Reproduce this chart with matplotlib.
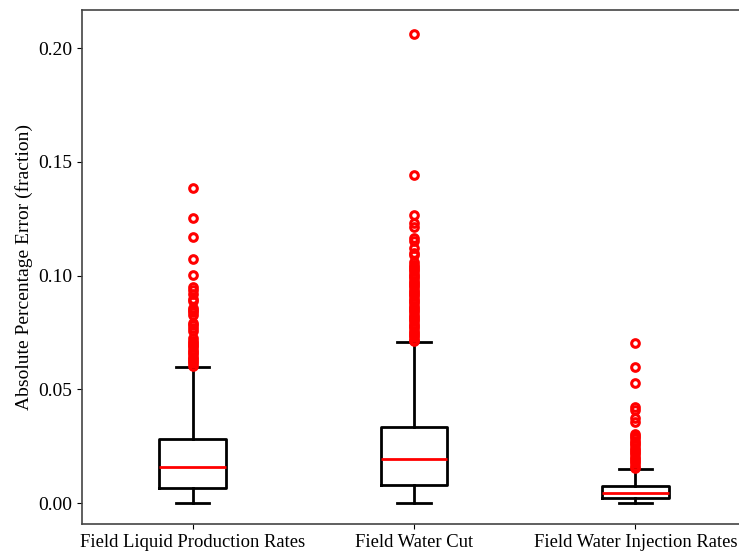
import matplotlib
matplotlib.use("Agg")
import matplotlib.pyplot as plt

plt.rcParams['font.family'] = ['Liberation Serif', 'DejaVu Serif']

labels = ['Field Liquid Production Rates', 'Field Water Cut', 'Field Water Injection Rates']

# box summary per series: lower whisker, q1, median, q3, upper whisker
whislo = [0.0, 0.0, 0.0002]
q1 = [0.0068, 0.0079, 0.0021]
med = [0.0158, 0.0194, 0.0044]
q3 = [0.0282, 0.0336, 0.0074]
whishi = [0.0597, 0.0707, 0.0148]

fliers_liquid = [0.1383, 0.1251, 0.1168, 0.1074, 0.1001, 0.0950, 0.0935, 0.0920,
                 0.0898, 0.0888, 0.0857, 0.0848, 0.0838, 0.0826, 0.0792, 0.0782,
                 0.0770, 0.0758, 0.0724, 0.0714, 0.0704, 0.0694, 0.0684, 0.0674,
                 0.0664, 0.0654, 0.0644, 0.0634, 0.0624, 0.0614, 0.0604]
fliers_watercut = [0.2062, 0.1440, 0.1266, 0.1231, 0.1215, 0.1165, 0.1150, 0.1121,
                   0.1100, 0.1090, 0.1061, 0.1048, 0.1038, 0.1028, 0.1018, 0.1008,
                   0.0998, 0.0988, 0.0978, 0.0968, 0.0958, 0.0948, 0.0938, 0.0928,
                   0.0918, 0.0908, 0.0898, 0.0888, 0.0878, 0.0868, 0.0858, 0.0848,
                   0.0838, 0.0828, 0.0818, 0.0808, 0.0798, 0.0788, 0.0778, 0.0768,
                   0.0758, 0.0748, 0.0738, 0.0728, 0.0718, 0.0712]
fliers_injection = [0.0703, 0.0599, 0.0529, 0.0423, 0.0409, 0.0374, 0.0357, 0.0304,
                    0.0294, 0.0284, 0.0274, 0.0264, 0.0254, 0.0244, 0.0234, 0.0224,
                    0.0214, 0.0204, 0.0194, 0.0184, 0.0174, 0.0164, 0.0156]
fliers = [fliers_liquid, fliers_watercut, fliers_injection]

stats = []
for i in range(len(labels)):
    stats.append({'label': labels[i], 'whislo': whislo[i], 'q1': q1[i], 'med': med[i],
                  'q3': q3[i], 'whishi': whishi[i], 'fliers': fliers[i]})

fig = plt.figure(figsize=(7.39, 5.56), dpi=100)
ax = fig.add_axes([0.111, 0.0576, 0.8985, 0.9244])

ax.bxp(stats, widths=0.3,
       boxprops=dict(color='black', linewidth=2),
       whiskerprops=dict(color='black', linewidth=2),
       capprops=dict(color='black', linewidth=2),
       medianprops=dict(color='red', linewidth=2),
       flierprops=dict(marker='o', markerfacecolor='none', markeredgecolor='red',
                       markersize=5.5, markeredgewidth=2.2))

ax.set_xlim(0.5, 3.5)
ax.set_ylim(-0.0092, 0.2167)
ax.set_yticks([0.0, 0.05, 0.10, 0.15, 0.20])
ax.set_yticklabels(['0.00', '0.05', '0.10', '0.15', '0.20'])
ax.set_ylabel('Absolute Percentage Error (fraction)', fontsize=14)
ax.tick_params(axis='y', labelsize=14)
ax.tick_params(axis='x', labelsize=13.4)
for s in ax.spines.values():
    s.set_color('#444444')
    s.set_linewidth(1.2)

fig.savefig('out.png', dpi=100)
